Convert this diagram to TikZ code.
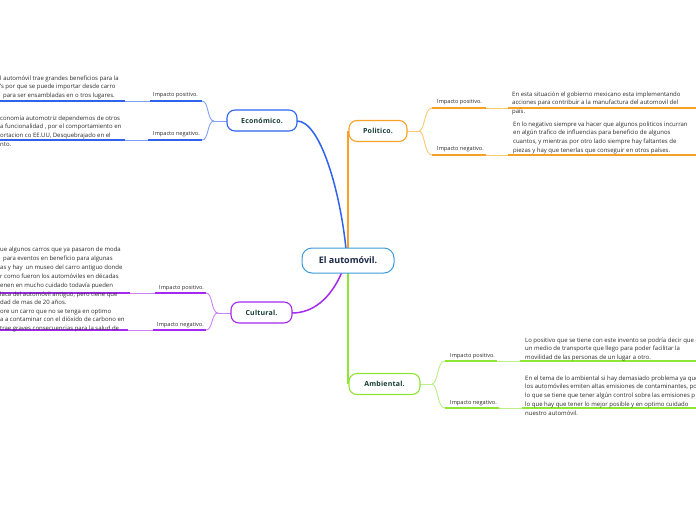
\documentclass[tikz,border=0pt]{standalone}
\usepackage{fontspec}
\setmainfont{Open Sans}
\newfontfamily\topicfont[LetterSpace=3]{Open Sans}
\newcommand\tline[1]{\hbox{#1}}
\definecolor{cblue}{HTML}{2F63EE}
\definecolor{cbluel}{HTML}{7FA0F7}
\definecolor{corange}{HTML}{F7A226}
\definecolor{corangel}{HTML}{FBC870}
\definecolor{cpurple}{HTML}{A42AF2}
\definecolor{cpurplel}{HTML}{CB82F7}
\definecolor{cgreen}{HTML}{8FE634}
\definecolor{cgreenl}{HTML}{BDF084}
\definecolor{ccentral}{HTML}{3F9BD8}
\definecolor{boxtxt}{HTML}{173D34}
\definecolor{centtxt}{HTML}{1A2747}
\definecolor{bodytxt}{HTML}{2A2A2A}
\begin{document}
\begin{tikzpicture}[x=1pt,y=-1pt,
  topic/.style={draw, fill=white, rounded corners=8pt, line width=1.1pt, font=\topicfont\fontsize{7}{8}\selectfont\bfseries, text=boxtxt, inner sep=0pt, minimum height=21pt},
  lbl/.style={anchor=base west, inner sep=0pt, font=\fontsize{5.6}{6}\selectfont, text=bodytxt},
  body/.style={anchor=base west, inner sep=0pt, font=\fontsize{6}{8.9}\selectfont, text=bodytxt},
  main/.style={line width=1.5pt},
  thin/.style={line width=0.9pt},
  under/.style={line width=1.8pt},
]
\useasboundingbox (0,0) rectangle (696,520);
\clip (0,0) rectangle (696,520);

% ---------- coordinates ----------
\coordinate (cTop) at (346,249);
\coordinate (cTopO) at (348,249);
\coordinate (cBot) at (348,272);
\coordinate (cBotP) at (342,272);

% ---------- main connectors ----------
\draw[main, cblue] (cTop) .. controls (340,190) and (320,121) .. (297,121);
\draw[main, corange] (cTopO) -- (348,131);
\draw[main, cgreen] (cBot) -- (348,384);
\draw[main, cpurple] (cBotP) .. controls (330,300) and (312,313) .. (292,313);

% ---------- Economico branch ----------
\coordinate (eFork) at (214,121);
\coordinate (eP) at (202,101);
\coordinate (eN) at (202,140);
\draw[thin, cbluel] (227,121) -- (eFork);
\draw[thin, cbluel] (eFork) .. controls (207,121) and (209,101) .. (eP);
\draw[thin, cbluel] (eFork) .. controls (207,121) and (209,140) .. (eN);
\draw[under, cblue] (eP) -- (150,101);
\draw[thin, cbluel] (150,101) -- (125,101);
\draw[under, cblue] (125,101) -- (0,101);
\draw[under, cblue] (eN) -- (148,140);
\draw[thin, cbluel] (148,140) -- (125,140);
\draw[under, cblue] (125,140) -- (0,140);
\node[lbl] (eLP) at (153,96.5) {Impacto positivo.};
\node[lbl] (eLN) at (153,135.5) {Impacto negativo.};
\node[body] (eTP) at (0,80) {\vtop{\tline{l automóvil trae grandes beneficios para la}\tline{'s por que se puede importar desde carro}\tline{\hspace*{3pt}para ser ensambladas en o tros lugares.}}};
\node[body] (eTN) at (0,120) {\vtop{\tline{conomía automotriz dependemos de otros}\tline{a funcionalidad , por el comportamiento en}\tline{ortacion co EE.UU, Desquebrajado en el}\tline{nto.}}};

% ---------- Politico branch ----------
\coordinate (pFork) at (419,131);
\coordinate (pP) at (432,108);
\coordinate (pN) at (432,155);
\draw[thin, corangel] (407,131) -- (pFork);
\draw[thin, corangel] (pFork) .. controls (425,131) and (424,108) .. (pP);
\draw[thin, corangel] (pFork) .. controls (425,131) and (424,155) .. (pN);
\draw[under, corange] (pP) -- (486,108);
\draw[thin, corangel] (486,108) -- (508,108);
\draw[under, corange] (508,108) -- (696,108);
\draw[under, corange] (pN) -- (486,155);
\draw[thin, corangel] (486,155) -- (508,155);
\draw[under, corange] (508,155) -- (696,155);
\node[lbl] (pLP) at (437,103) {Impacto positivo.};
\node[lbl] (pLN) at (437,150) {Impacto negativo.};
\node[body] (pTP) at (512,96) {\vtop{\tline{En esta situación el gobierno mexicano esta implementando}\tline{acciones para contribuir a la manufactura del automovil del}\tline{país.}}};
\node[body] (pTN) at (513,126) {\vtop{\tline{En lo negativo siempre va hacer que algunos politicos incurran}\tline{en algún trafico de influencias para beneficio de algunos}\tline{cuantos, y mientras por otro lado siempre hay faltantes de}\tline{piezas y hay que tenerlas que conseguir en otros países.}}};

% ---------- Cultural branch ----------
\coordinate (kFork) at (218,313);
\coordinate (kP) at (206,293);
\coordinate (kN) at (206,330);
\draw[thin, cpurplel] (231,313) -- (kFork);
\draw[thin, cpurplel] (kFork) .. controls (211,313) and (213,293) .. (kP);
\draw[thin, cpurplel] (kFork) .. controls (211,313) and (213,330) .. (kN);
\draw[under, cpurple] (kP) -- (155,293);
\draw[thin, cpurplel] (155,293) -- (130,293);
\draw[under, cpurple] (130,293) -- (0,293);
\draw[under, cpurple] (kN) -- (153,330);
\draw[thin, cpurplel] (153,330) -- (128,330);
\draw[under, cpurple] (128,330) -- (0,330);
\node[lbl] (kLP) at (159,289) {Impacto positivo.};
\node[lbl] (kLN) at (157,326.5) {Impacto negativo.};
\node[body] (kTP) at (0,251.5) {\vtop{\tline{ue algunos carros que ya pasaron de moda}\tline{\hspace*{3pt}para eventos en beneficio para algunas}\tline{as y hay \ un museo del carro antiguo donde}\tline{r como fueron los automóviles en décadas}\tline{enen en mucho cuidado todavía pueden}\tline{laca del automóvil antiguo, pero tiene que}\tline{dad de mas de 20 años.}}};
\node[body] (kTN) at (0,313) {\vtop{\tline{ore un carro que no se tenga en optimo}\tline{a a contaminar con el dióxido de carbono en}\tline{trae graves consecuencias para la salud de}}};

% ---------- Ambiental branch ----------
\coordinate (aFork) at (432,384);
\coordinate (aP) at (445,361);
\coordinate (aN) at (445,408);
\draw[thin, cgreenl] (420,384) -- (aFork);
\draw[thin, cgreenl] (aFork) .. controls (438,384) and (437,361) .. (aP);
\draw[thin, cgreenl] (aFork) .. controls (438,384) and (437,408) .. (aN);
\draw[under, cgreen] (aP) -- (497,361);
\draw[thin, cgreenl] (497,361) -- (520,361);
\draw[under, cgreen] (520,361) -- (696,361);
\draw[under, cgreen] (aN) -- (499,408);
\draw[thin, cgreenl] (499,408) -- (522,408);
\draw[under, cgreen] (522,408) -- (696,408);
\node[lbl] (aLP) at (450,357) {Impacto positivo.};
\node[lbl] (aLN) at (450,404) {Impacto negativo.};
\node[body] (aTP) at (525,342) {\vtop{\tline{Lo positivo que se tiene con este invento se podría decir que e}\tline{un medio de transporte que llego para poder facilitar la}\tline{movilidad de las personas de un lugar a otro.}}};
\node[body] (aTN) at (525,380) {\vtop{\tline{En el tema de lo ambiental si hay demasiado problema ya que}\tline{los automóviles emiten altas emisiones de contaminantes, po}\tline{lo que se tiene que tener algún control sobre las emisiones p}\tline{lo que hay que tener lo mejor posible y en optimo cuidado}\tline{nuestro automóvil.}}};

% ---------- topic boxes ----------
\node[topic, draw=cblue, minimum width=70pt] (econ) at (262,120.5) {Económico.};
\node[topic, draw=corange, minimum width=58pt] (poli) at (378,131) {Politico.};
\node[topic, draw=cpurple, minimum width=61pt] (cult) at (261.5,312.5) {Cultural.};
\node[topic, draw=cgreen, minimum width=71pt] (amb) at (384.5,384) {Ambiental.};
\node[topic, draw=ccentral, line width=1pt, rounded corners=10pt, minimum width=92pt, minimum height=25pt, font=\fontsize{9}{10}\selectfont\bfseries, text=centtxt] (central) at (348,260.5) {El automóvil.};
\end{tikzpicture}
\end{document}
